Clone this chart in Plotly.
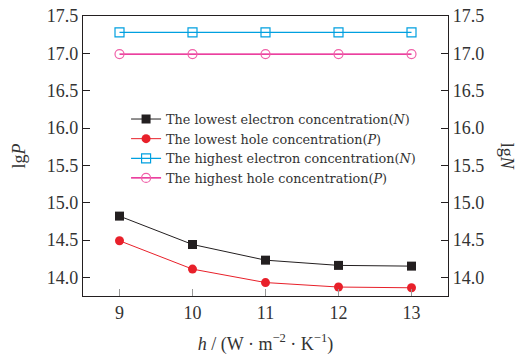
import plotly.graph_objects as go

h_values = [9, 10, 11, 12, 13]
lowest_electron = [14.82, 14.44, 14.23, 14.16, 14.15]
lowest_hole = [14.49, 14.11, 13.93, 13.87, 13.86]
highest_electron = [17.28, 17.28, 17.28, 17.28, 17.28]
highest_hole = [16.99, 16.99, 16.99, 16.99, 16.99]
y_ticks = [14.0, 14.5, 15.0, 15.5, 16.0, 16.5, 17.0, 17.5]
y_tick_labels = ["14.0", "14.5", "15.0", "15.5", "16.0", "16.5", "17.0", "17.5"]

names = [
    "The lowest electron concentration(<i>N</i>)",
    "The lowest hole concentration(<i>P</i>)",
    "The highest electron concentration(<i>N</i>)",
    "The highest hole concentration(<i>P</i>)",
]

FONT = "Liberation Serif, Times New Roman, serif"
LEGEND_FONT = "DejaVu Serif, serif"
fig = go.Figure()
fig.add_trace(go.Scatter(x=h_values, y=lowest_electron, name=names[0], mode="lines+markers",
                         line=dict(color="#231f20", width=1),
                         marker=dict(symbol="square", size=9, color="#231f20")))
fig.add_trace(go.Scatter(x=h_values, y=lowest_hole, name=names[1], mode="lines+markers",
                         line=dict(color="#e8202a", width=1),
                         marker=dict(symbol="circle", size=9, color="#e8202a")))
fig.add_trace(go.Scatter(x=h_values, y=highest_electron, name=names[2], mode="lines+markers",
                         line=dict(color="#00a0e0", width=1.2),
                         marker=dict(symbol="square-open", size=9, color="#00a0e0", line=dict(width=1.2))))
fig.add_trace(go.Scatter(x=h_values, y=highest_hole, name=names[3], mode="lines+markers",
                         line=dict(color="#e4007f", width=1.2),
                         marker=dict(symbol="circle-open", size=9, color="#f060a8", line=dict(width=1.2))))
fig.add_trace(go.Scatter(x=h_values, y=highest_hole, yaxis="y2", showlegend=False,
                         mode="markers", marker=dict(opacity=0), hoverinfo="skip"))

tickfont = dict(family=FONT, size=18, color="#333")
fig.update_layout(
    width=523, height=356,
    margin=dict(l=83, r=75, t=16, b=60, autoexpand=False),
    paper_bgcolor="white", plot_bgcolor="white",
    font=dict(family=FONT, color="#231f20"),
    showlegend=True,
    legend=dict(x=0.118, y=0.685, xanchor="left", yanchor="top",
                font=dict(family=LEGEND_FONT, size=12.8, color="#333"),
                bgcolor="rgba(0,0,0,0)", tracegroupgap=0, itemwidth=30),
    xaxis=dict(range=[8.5, 13.5], tickvals=h_values, ticks="inside", ticklen=7,
               tickcolor="#999", showline=True, linecolor="#231f20", linewidth=1.2,
               mirror=True, showgrid=False, zeroline=False, tickfont=tickfont,
               automargin=False,
               title=dict(text="<i>h</i> / (W · m<sup>−2</sup> · K<sup>−1</sup>)",
                          font=dict(family=FONT, size=18, color="#333"), standoff=15)),
    yaxis=dict(range=[13.75, 17.5], tickvals=y_ticks, ticktext=y_tick_labels,
               ticks="inside", ticklen=7, tickcolor="#231f20",
               showline=True, linecolor="#231f20", linewidth=1.2, showgrid=False,
               zeroline=False, tickfont=tickfont, automargin=False,
               title=dict(text="lg<i>P</i>", font=dict(family=FONT, size=18, color="#333"), standoff=16)),
    yaxis2=dict(range=[13.75, 17.5], tickvals=y_ticks, ticktext=y_tick_labels,
                overlaying="y", side="right", ticks="inside", ticklen=7, tickcolor="#231f20",
                showline=True, linecolor="#231f20", linewidth=1.2, showgrid=False,
                zeroline=False, tickfont=tickfont, automargin=False),
    annotations=[dict(text="lg<i>N</i>", x=1.195, y=0.5, xref="paper", yref="paper",
                      textangle=90, showarrow=False,
                      font=dict(family=FONT, size=18, color="#333"))],
)
fig.write_html("out.html")
